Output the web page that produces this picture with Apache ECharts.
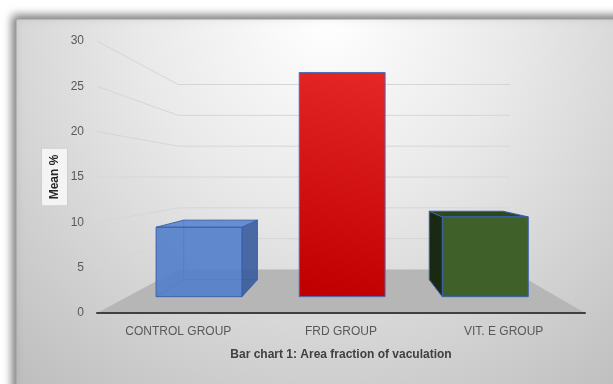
<!DOCTYPE html>
<html>
<head>
<meta charset="utf-8">
<script src="https://cdn.jsdelivr.net/npm/echarts@6/dist/echarts.min.js"></script>
<style>
  html, body { margin: 0; padding: 0; background: #ffffff; }
  #chart { width: 613px; height: 384px; }
</style>
</head>
<body>
<div id="chart"></div>
<script>
// data
const categories = ['CONTROL GROUP', 'FRD GROUP', 'VIT. E GROUP'];
const meanValues = [8.7, 28.1, 10.0];
const wallTicks = [5, 10, 15, 20, 25, 30];

// look of each box: front, top, side, edge, opacity
const boxFront = [
    '#5580cb',
    new echarts.graphic.LinearGradient(1, 0, 0.4, 1, [
        {offset: 0, color: '#e62727'},
        {offset: 1, color: '#c00000'}
    ]),
    '#3f6129'
];
const boxTop = ['#5c86d0', '#d01010', '#2d481e'];
const boxSide = ['#3c5ea0', '#a00000', '#1a2912'];
const boxEdge = ['#365ea8', '#4a6fbd', '#3a62ad'];
const boxAlpha = [0.92, 1, 1];

// fake perspective: scale toward a vanishing point inside the grid
const S_BACK = 0.68;      // back wall
const S_BAR_FRONT = 0.88;
const S_BAR_BACK = 0.755;

function vanish(cs) {
    return [cs.x + cs.width * 0.52, cs.y + cs.height * 0.5];
}
function proj(vp, x, y, s) {
    return [vp[0] + (x - vp[0]) * s, vp[1] + (y - vp[1]) * s];
}

function renderWall(params, api) {
    const cs = params.coordSys;
    const vp = vanish(cs);
    const y = api.coord([0, api.value(1)])[1];
    const pts = [
        [cs.x, y],
        proj(vp, cs.x, y, S_BACK),
        proj(vp, cs.x + cs.width, y, S_BACK)
    ];
    return {
        type: 'polyline',
        shape: {points: pts},
        style: {stroke: '#d6d6d6', lineWidth: 1, fill: null}
    };
}

function renderFloor(params, api) {
    const cs = params.coordSys;
    const vp = vanish(cs);
    const y = api.coord([0, 0])[1];
    const pts = [
        [cs.x, y],
        [cs.x + cs.width, y],
        proj(vp, cs.x + cs.width, y, S_BACK),
        proj(vp, cs.x, y, S_BACK)
    ];
    return {
        type: 'polygon',
        shape: {points: pts},
        style: {fill: '#b6b6b6'}
    };
}

function renderBox(params, api) {
    const cs = params.coordSys;
    const vp = vanish(cs);
    const i = params.dataIndex;
    const top = api.coord([api.value(0), api.value(1)]);
    const base = api.coord([api.value(0), 0]);
    const w = api.size([1, 0])[0] * 0.6;
    const xl = top[0] - w / 2, xr = top[0] + w / 2;

    const ftl = proj(vp, xl, top[1], S_BAR_FRONT), ftr = proj(vp, xr, top[1], S_BAR_FRONT);
    const fbl = proj(vp, xl, base[1], S_BAR_FRONT), fbr = proj(vp, xr, base[1], S_BAR_FRONT);
    const btl = proj(vp, xl, top[1], S_BAR_BACK), btr = proj(vp, xr, top[1], S_BAR_BACK);
    const bbl = proj(vp, xl, base[1], S_BAR_BACK), bbr = proj(vp, xr, base[1], S_BAR_BACK);

    const edge = {stroke: boxEdge[i], lineWidth: 1};
    const children = [];
    // hidden edges (seen through the translucent box)
    children.push({type: 'polyline', shape: {points: [fbl, bbl, bbr]}, style: Object.assign({fill: null}, edge)});
    children.push({type: 'line', shape: {x1: bbl[0], y1: bbl[1], x2: btl[0], y2: btl[1]}, style: edge});

    if (xr < vp[0]) {
        children.push({type: 'polygon', shape: {points: [ftr, btr, bbr, fbr]},
            style: Object.assign({fill: boxSide[i], opacity: boxAlpha[i]}, edge)});
    }
    if (xl > vp[0]) {
        children.push({type: 'polygon', shape: {points: [ftl, btl, bbl, fbl]},
            style: Object.assign({fill: boxSide[i], opacity: boxAlpha[i]}, edge)});
    }
    if (top[1] > vp[1]) {
        children.push({type: 'polygon', shape: {points: [ftl, btl, btr, ftr]},
            style: Object.assign({fill: boxTop[i], opacity: boxAlpha[i]}, edge)});
    }
    children.push({type: 'polygon', shape: {points: [ftl, ftr, fbr, fbl]},
        style: Object.assign({fill: boxFront[i], opacity: boxAlpha[i]}, edge)});
    return {type: 'group', children: children};
}

const chart = echarts.init(document.getElementById('chart'), null, {renderer: 'canvas'});

const option = {
    animation: false,
    textStyle: {fontFamily: 'Liberation Sans, Arial, sans-serif'},
    graphic: [{
        type: 'rect',
        z: -10,
        shape: {x: 16, y: 19, width: 620, height: 390},
        style: {
            fill: new echarts.graphic.RadialGradient(0.5, 0.0, 1.2, [
                {offset: 0, color: '#ffffff'},
                {offset: 0.4, color: '#e9e9e9'},
                {offset: 1, color: '#bfbfbf'}
            ]),
            stroke: '#9c9c9c',
            lineWidth: 1,
            shadowBlur: 9,
            shadowOffsetX: -3,
            shadowOffsetY: -3,
            shadowColor: 'rgba(0,0,0,0.55)'
        }
    }],
    grid: {left: 97, right: 28, top: 41, bottom: 71},
    xAxis: {
        type: 'category',
        data: categories,
        z: 5,
        name: 'Bar chart 1: Area fraction of vaculation',
        nameLocation: 'middle',
        nameGap: 36,
        nameTextStyle: {color: '#404040', fontSize: 12, fontWeight: 'bold'},
        axisLine: {show: true, lineStyle: {color: '#404040', width: 2}},
        axisTick: {show: false},
        axisLabel: {color: '#595959', fontSize: 12, margin: 13},
        splitLine: {show: false}
    },
    yAxis: {
        type: 'value',
        min: 0,
        max: 30,
        interval: 5,
        name: 'Mean %',
        nameLocation: 'middle',
        nameRotate: 90,
        nameGap: 30,
        nameMoveOverlap: false,
        nameTextStyle: {
            color: '#262626', fontSize: 12, fontWeight: 'bold',
            backgroundColor: '#f4f4f4', borderColor: '#cfcfcf', borderWidth: 1,
            padding: [7, 6, 6, 6]
        },
        axisLine: {show: false},
        axisTick: {show: false},
        axisLabel: {color: '#595959', fontSize: 12, margin: 13},
        splitLine: {show: false}
    },
    series: [
        {
            type: 'custom',
            name: 'wall',
            z: 1,
            silent: true,
            renderItem: renderWall,
            encode: {x: 0, y: 1},
            data: wallTicks.map(v => [0, v])
        },
        {
            type: 'custom',
            name: 'floor',
            z: 2,
            silent: true,
            renderItem: renderFloor,
            encode: {x: 0, y: 1},
            data: [[0, 0]]
        },
        {
            type: 'custom',
            name: 'Mean %',
            z: 3,
            renderItem: renderBox,
            encode: {x: 0, y: 1},
            data: meanValues.map((v, i) => [i, v])
        }
    ]
};

chart.setOption(option);
</script>
</body>
</html>
